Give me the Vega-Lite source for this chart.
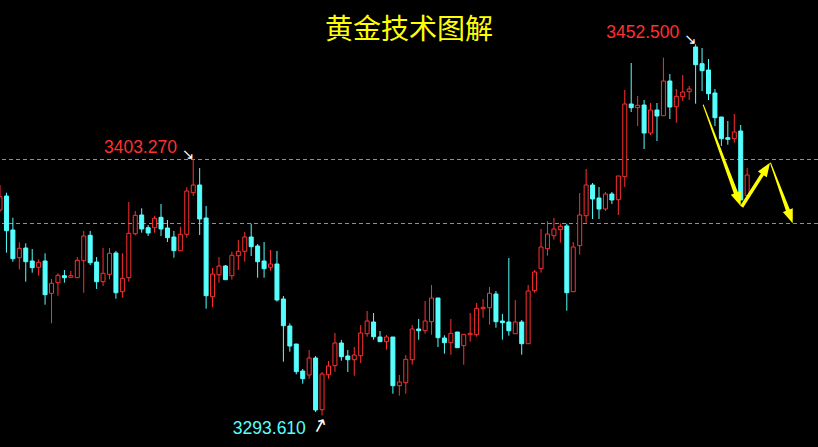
{
  "$schema": "https://vega.github.io/schema/vega-lite/v6.json",
  "width": 818,
  "height": 447,
  "autosize": {"type": "none"},
  "padding": 0,
  "background": "#000000",
  "config": {"view": {"stroke": null}},
  "datasets": {
    "candles": [
      {"i":0,"o":3381.56,"h":3392.26,"l":3380.70,"c":3387.25},
      {"i":1,"o":3387.55,"h":3388.96,"l":3363.28,"c":3372.70},
      {"i":2,"o":3373.00,"h":3378.26,"l":3359.42,"c":3360.71},
      {"i":3,"o":3361.14,"h":3367.73,"l":3356.17,"c":3365.16},
      {"i":4,"o":3365.29,"h":3367.30,"l":3350.86,"c":3359.42},
      {"i":5,"o":3359.73,"h":3364.86,"l":3354.72,"c":3356.86},
      {"i":6,"o":3357.03,"h":3360.45,"l":3353.43,"c":3359.17},
      {"i":7,"o":3359.73,"h":3363.02,"l":3341.02,"c":3345.30},
      {"i":8,"o":3345.90,"h":3352.02,"l":3333.06,"c":3350.18},
      {"i":9,"o":3350.44,"h":3354.46,"l":3344.87,"c":3353.60},
      {"i":10,"o":3353.43,"h":3355.87,"l":3350.44,"c":3352.58},
      {"i":11,"o":3352.75,"h":3355.44,"l":3352.75,"c":3353.43},
      {"i":12,"o":3352.58,"h":3361.44,"l":3352.58,"c":3360.03},
      {"i":13,"o":3359.85,"h":3372.57,"l":3346.15,"c":3370.43},
      {"i":14,"o":3370.73,"h":3372.57,"l":3358.01,"c":3359.00},
      {"i":15,"o":3359.30,"h":3361.44,"l":3347.74,"c":3350.86},
      {"i":16,"o":3350.86,"h":3365.29,"l":3349.02,"c":3354.46},
      {"i":17,"o":3354.03,"h":3365.29,"l":3351.89,"c":3363.02},
      {"i":18,"o":3363.15,"h":3364.01,"l":3343.59,"c":3346.15},
      {"i":19,"o":3346.58,"h":3363.02,"l":3344.01,"c":3352.32},
      {"i":20,"o":3352.58,"h":3384.98,"l":3350.86,"c":3371.58},
      {"i":21,"o":3371.41,"h":3381.13,"l":3370.73,"c":3379.29},
      {"i":22,"o":3379.42,"h":3382.29,"l":3371.84,"c":3373.43},
      {"i":23,"o":3373.98,"h":3375.14,"l":3370.43,"c":3371.71},
      {"i":24,"o":3373.98,"h":3378.99,"l":3371.84,"c":3378.01},
      {"i":25,"o":3378.43,"h":3384.13,"l":3370.43,"c":3373.43},
      {"i":26,"o":3373.85,"h":3377.28,"l":3367.86,"c":3369.70},
      {"i":27,"o":3370.00,"h":3372.57,"l":3361.14,"c":3364.14},
      {"i":28,"o":3364.14,"h":3374.41,"l":3364.14,"c":3371.16},
      {"i":29,"o":3371.16,"h":3391.28,"l":3369.70,"c":3389.69},
      {"i":30,"o":3388.96,"h":3403.27,"l":3387.55,"c":3392.26},
      {"i":31,"o":3392.26,"h":3399.54,"l":3370.86,"c":3377.71},
      {"i":32,"o":3378.13,"h":3383.27,"l":3339.31,"c":3344.87},
      {"i":33,"o":3344.44,"h":3356.73,"l":3339.90,"c":3354.16},
      {"i":34,"o":3353.86,"h":3361.44,"l":3350.44,"c":3357.59},
      {"i":35,"o":3357.59,"h":3358.01,"l":3351.72,"c":3351.72},
      {"i":36,"o":3353.43,"h":3363.71,"l":3351.72,"c":3362.17},
      {"i":37,"o":3361.99,"h":3368.72,"l":3355.87,"c":3363.88},
      {"i":38,"o":3363.88,"h":3372.14,"l":3359.42,"c":3370.00},
      {"i":39,"o":3370.00,"h":3375.69,"l":3361.87,"c":3365.85},
      {"i":40,"o":3366.15,"h":3367.00,"l":3352.58,"c":3359.42},
      {"i":41,"o":3359.73,"h":3367.86,"l":3352.58,"c":3356.43},
      {"i":42,"o":3357.03,"h":3364.43,"l":3355.57,"c":3358.44},
      {"i":43,"o":3358.44,"h":3364.01,"l":3342.30,"c":3343.03},
      {"i":44,"o":3343.46,"h":3344.74,"l":3316.62,"c":3332.03},
      {"i":45,"o":3331.90,"h":3333.06,"l":3320.90,"c":3323.34},
      {"i":46,"o":3324.19,"h":3324.19,"l":3311.22,"c":3312.34},
      {"i":47,"o":3312.63,"h":3313.49,"l":3307.20,"c":3309.34},
      {"i":48,"o":3310.92,"h":3321.62,"l":3309.34,"c":3318.20},
      {"i":49,"o":3318.20,"h":3319.06,"l":3295.08,"c":3295.94},
      {"i":50,"o":3296.07,"h":3312.21,"l":3293.61,"c":3311.35},
      {"i":51,"o":3311.05,"h":3316.92,"l":3309.34,"c":3314.78},
      {"i":52,"o":3314.90,"h":3328.90,"l":3312.34,"c":3324.62},
      {"i":53,"o":3324.62,"h":3325.91,"l":3317.04,"c":3318.76},
      {"i":54,"o":3319.06,"h":3321.62,"l":3312.21,"c":3317.47},
      {"i":55,"o":3317.47,"h":3322.91,"l":3310.62,"c":3319.48},
      {"i":56,"o":3319.18,"h":3332.33,"l":3316.06,"c":3328.90},
      {"i":57,"o":3328.60,"h":3338.32,"l":3327.32,"c":3334.04},
      {"i":58,"o":3333.61,"h":3337.46,"l":3326.03,"c":3327.32},
      {"i":59,"o":3327.19,"h":3329.76,"l":3325.18,"c":3325.18},
      {"i":60,"o":3325.18,"h":3328.05,"l":3321.75,"c":3327.19},
      {"i":61,"o":3327.19,"h":3327.19,"l":3302.92,"c":3306.34},
      {"i":62,"o":3306.34,"h":3310.92,"l":3302.06,"c":3307.93},
      {"i":63,"o":3307.63,"h":3319.48,"l":3302.92,"c":3317.64},
      {"i":64,"o":3317.47,"h":3332.33,"l":3315.33,"c":3330.62},
      {"i":65,"o":3330.62,"h":3334.90,"l":3326.03,"c":3329.89},
      {"i":66,"o":3329.89,"h":3342.60,"l":3328.60,"c":3334.04},
      {"i":67,"o":3333.74,"h":3349.45,"l":3328.17,"c":3343.89},
      {"i":68,"o":3343.89,"h":3343.89,"l":3322.91,"c":3326.89},
      {"i":69,"o":3326.76,"h":3327.92,"l":3320.04,"c":3324.75},
      {"i":70,"o":3324.75,"h":3334.90,"l":3319.61,"c":3328.77},
      {"i":71,"o":3329.33,"h":3329.33,"l":3322.61,"c":3322.61},
      {"i":72,"o":3323.47,"h":3328.35,"l":3315.33,"c":3328.35},
      {"i":73,"o":3328.17,"h":3337.46,"l":3325.18,"c":3328.77},
      {"i":74,"o":3328.17,"h":3341.75,"l":3327.32,"c":3339.48},
      {"i":75,"o":3339.31,"h":3343.46,"l":3335.45,"c":3339.90},
      {"i":76,"o":3339.73,"h":3348.60,"l":3332.46,"c":3345.90},
      {"i":77,"o":3345.60,"h":3346.88,"l":3331.17,"c":3333.74},
      {"i":78,"o":3334.04,"h":3337.04,"l":3326.03,"c":3333.31},
      {"i":79,"o":3333.61,"h":3361.01,"l":3327.75,"c":3329.89},
      {"i":80,"o":3328.60,"h":3343.03,"l":3328.60,"c":3333.61},
      {"i":81,"o":3333.61,"h":3334.47,"l":3319.61,"c":3324.32},
      {"i":82,"o":3324.32,"h":3349.45,"l":3324.32,"c":3346.88},
      {"i":83,"o":3347.01,"h":3355.87,"l":3346.15,"c":3355.02},
      {"i":84,"o":3356.43,"h":3373.43,"l":3354.72,"c":3365.72},
      {"i":85,"o":3364.99,"h":3376.85,"l":3361.99,"c":3371.28},
      {"i":86,"o":3370.56,"h":3378.13,"l":3368.84,"c":3373.43},
      {"i":87,"o":3373.13,"h":3375.86,"l":3367.56,"c":3374.58},
      {"i":88,"o":3374.71,"h":3375.69,"l":3338.45,"c":3346.15},
      {"i":89,"o":3346.58,"h":3367.86,"l":3346.58,"c":3365.72},
      {"i":90,"o":3366.28,"h":3388.84,"l":3362.42,"c":3379.42},
      {"i":91,"o":3379.12,"h":3399.11,"l":3376.12,"c":3392.26},
      {"i":92,"o":3392.26,"h":3393.12,"l":3377.71,"c":3386.27},
      {"i":93,"o":3386.70,"h":3391.41,"l":3377.71,"c":3381.99},
      {"i":94,"o":3381.99,"h":3389.26,"l":3381.13,"c":3388.41},
      {"i":95,"o":3388.41,"h":3389.26,"l":3384.13,"c":3385.84},
      {"i":96,"o":3385.97,"h":3396.11,"l":3379.42,"c":3396.11},
      {"i":97,"o":3395.81,"h":3432.93,"l":3391.41,"c":3426.94},
      {"i":98,"o":3426.94,"h":3444.49,"l":3423.51,"c":3425.35},
      {"i":99,"o":3425.35,"h":3430.36,"l":3417.52,"c":3426.38},
      {"i":100,"o":3426.51,"h":3428.65,"l":3407.67,"c":3414.52},
      {"i":101,"o":3414.52,"h":3427.37,"l":3413.67,"c":3424.37},
      {"i":102,"o":3424.37,"h":3427.37,"l":3411.10,"c":3421.80},
      {"i":103,"o":3421.93,"h":3446.76,"l":3421.80,"c":3436.78},
      {"i":104,"o":3436.78,"h":3439.78,"l":3420.52,"c":3425.65},
      {"i":105,"o":3425.78,"h":3433.36,"l":3418.93,"c":3430.23},
      {"i":106,"o":3430.06,"h":3439.35,"l":3428.22,"c":3432.07},
      {"i":107,"o":3432.20,"h":3434.64,"l":3428.65,"c":3433.36},
      {"i":108,"o":3451.34,"h":3452.50,"l":3427.07,"c":3443.76},
      {"i":109,"o":3444.19,"h":3450.91,"l":3432.50,"c":3441.19},
      {"i":110,"o":3441.49,"h":3446.20,"l":3428.65,"c":3431.35},
      {"i":111,"o":3431.65,"h":3433.36,"l":3417.52,"c":3421.07},
      {"i":112,"o":3421.37,"h":3421.37,"l":3408.96,"c":3412.08},
      {"i":113,"o":3412.51,"h":3419.66,"l":3409.51,"c":3411.83},
      {"i":114,"o":3412.08,"h":3422.66,"l":3410.37,"c":3414.95},
      {"i":115,"o":3415.38,"h":3417.95,"l":3385.84,"c":3385.84},
      {"i":116,"o":3387.68,"h":3399.54,"l":3387.68,"c":3396.54}
    ],
    "levels": [{"level": 3403.27}, {"level": 3375.87}],
    "highs": [{"i": 30, "p": 3403.27, "label": "3403.270"}, {"i": 108, "p": 3452.5, "label": "3452.500"}],
    "lows": [{"i": 50, "p": 3293.61, "label": "3293.610"}],
    "tapered": [
      {"seg": "a", "i": 109.19, "p": 3426.51, "part": "start"},
      {"seg": "a", "i": 114.57, "p": 3386.48, "part": "end"},
      {"seg": "c", "i": 119.63, "p": 3401.68, "part": "start"},
      {"seg": "c", "i": 122.64, "p": 3379.08, "part": "end"}
    ],
    "straight": [
      {"seg": "b", "i": 115.15, "p": 3382.97},
      {"seg": "b", "i": 118.86, "p": 3398.94}
    ],
    "headsDown": [{"i": 115.0, "p": 3383.27}, {"i": 123.07, "p": 3375.87}],
    "headsUp": [{"i": 119.55, "p": 3401.81}]
  },
  "layer": [
    {
      "data": {"name": "levels"},
      "mark": {"type": "rule", "color": "#ee7a1e", "strokeWidth": 1, "strokeDash": [4, 3], "yOffset": 0.2},
      "encoding": {
        "y": {"field": "level", "type": "quantitative", "axis": null, "scale": {"domain": [3280.10, 3471.46], "nice": false, "zero": false}}
      }
    },
    {
      "data": {"name": "candles"},
      "mark": {"type": "rule", "strokeWidth": 1},
      "encoding": {
        "x": {"field": "i", "type": "quantitative", "axis": null, "scale": {"domain": [0, 127], "nice": false, "zero": false, "padding": 0}},
        "y": {"field": "l", "type": "quantitative", "axis": null, "scale": {"domain": [3280.10, 3471.46], "nice": false, "zero": false}},
        "y2": {"field": "h"},
        "color": {"condition": {"test": "datum.c >= datum.o", "value": "#ff3030"}, "value": "#55ffff"}
      }
    },
    {
      "data": {"name": "candles"},
      "mark": {"type": "bar", "size": 4, "strokeWidth": 1},
      "encoding": {
        "x": {"field": "i", "type": "quantitative", "axis": null, "scale": {"domain": [0, 127], "nice": false, "zero": false, "padding": 0}},
        "y": {"field": "o", "type": "quantitative", "axis": null, "scale": {"domain": [3280.10, 3471.46], "nice": false, "zero": false}},
        "y2": {"field": "c"},
        "fill": {"condition": {"test": "datum.c >= datum.o", "value": "#000000"}, "value": "#55ffff"},
        "stroke": {"condition": {"test": "datum.c >= datum.o", "value": "#ff3030"}, "value": "#55ffff"}
      }
    },
    {
      "data": {"name": "tapered"},
      "mark": {"type": "trail", "color": "#ffff00"},
      "encoding": {
        "x": {"field": "i", "type": "quantitative", "axis": null, "scale": {"domain": [0, 127], "nice": false, "zero": false, "padding": 0}},
        "y": {"field": "p", "type": "quantitative", "axis": null, "scale": {"domain": [3280.10, 3471.46], "nice": false, "zero": false}},
        "detail": {"field": "seg", "type": "nominal"},
        "size": {"field": "part", "type": "ordinal", "legend": null, "scale": {"domain": ["start", "end"], "range": [1, 4.5]}}
      }
    },
    {
      "data": {"name": "straight"},
      "mark": {"type": "line", "color": "#ffff00", "strokeWidth": 3.5},
      "encoding": {
        "x": {"field": "i", "type": "quantitative", "axis": null, "scale": {"domain": [0, 127], "nice": false, "zero": false, "padding": 0}},
        "y": {"field": "p", "type": "quantitative", "axis": null, "scale": {"domain": [3280.10, 3471.46], "nice": false, "zero": false}}
      }
    },
    {
      "data": {"name": "headsDown"},
      "mark": {"type": "point", "shape": "M0,0L0.38,1L-0.38,1Z", "filled": true, "color": "#ffff00", "opacity": 1, "size": 784, "angle": 159.6},
      "encoding": {
        "x": {"field": "i", "type": "quantitative", "axis": null, "scale": {"domain": [0, 127], "nice": false, "zero": false, "padding": 0}},
        "y": {"field": "p", "type": "quantitative", "axis": null, "scale": {"domain": [3280.10, 3471.46], "nice": false, "zero": false}}
      }
    },
    {
      "data": {"name": "headsUp"},
      "mark": {"type": "point", "shape": "M0,0L0.38,1L-0.38,1Z", "filled": true, "color": "#ffff00", "opacity": 1, "size": 784, "angle": 33.2},
      "encoding": {
        "x": {"field": "i", "type": "quantitative", "axis": null, "scale": {"domain": [0, 127], "nice": false, "zero": false, "padding": 0}},
        "y": {"field": "p", "type": "quantitative", "axis": null, "scale": {"domain": [3280.10, 3471.46], "nice": false, "zero": false}}
      }
    },
    {
      "data": {"name": "highs"},
      "mark": {"type": "text", "text": "↘", "font": "DejaVu Sans", "fontSize": 15, "color": "#ffffff", "align": "center", "baseline": "middle", "dx": -5, "dy": -5},
      "encoding": {
        "x": {"field": "i", "type": "quantitative", "axis": null, "scale": {"domain": [0, 127], "nice": false, "zero": false, "padding": 0}},
        "y": {"field": "p", "type": "quantitative", "axis": null, "scale": {"domain": [3280.10, 3471.46], "nice": false, "zero": false}}
      }
    },
    {
      "data": {"name": "lows"},
      "mark": {"type": "text", "text": "↗", "font": "DejaVu Sans", "fontSize": 19, "color": "#ffffff", "align": "center", "baseline": "middle", "dx": -5, "dy": 9, "angle": -16},
      "encoding": {
        "x": {"field": "i", "type": "quantitative", "axis": null, "scale": {"domain": [0, 127], "nice": false, "zero": false, "padding": 0}},
        "y": {"field": "p", "type": "quantitative", "axis": null, "scale": {"domain": [3280.10, 3471.46], "nice": false, "zero": false}}
      }
    },
    {
      "data": {"name": "highs"},
      "mark": {"type": "text", "font": "Liberation Sans", "fontSize": 17.5, "color": "#ff3030", "align": "right", "baseline": "alphabetic", "dx": -16.3, "dy": -6.3},
      "encoding": {
        "x": {"field": "i", "type": "quantitative", "axis": null, "scale": {"domain": [0, 127], "nice": false, "zero": false, "padding": 0}},
        "y": {"field": "p", "type": "quantitative", "axis": null, "scale": {"domain": [3280.10, 3471.46], "nice": false, "zero": false}},
        "text": {"field": "label", "type": "nominal"}
      }
    },
    {
      "data": {"name": "lows"},
      "mark": {"type": "text", "font": "Liberation Sans", "fontSize": 17.5, "color": "#55ffff", "align": "right", "baseline": "alphabetic", "dx": -16.2, "dy": 18.8},
      "encoding": {
        "x": {"field": "i", "type": "quantitative", "axis": null, "scale": {"domain": [0, 127], "nice": false, "zero": false, "padding": 0}},
        "y": {"field": "p", "type": "quantitative", "axis": null, "scale": {"domain": [3280.10, 3471.46], "nice": false, "zero": false}},
        "text": {"field": "label", "type": "nominal"}
      }
    },
    {
      "data": {"values": [{"title": "黄金技术图解"}]},
      "mark": {"type": "text", "font": "Noto Sans CJK SC", "fontSize": 28, "color": "#ffff00", "align": "center", "baseline": "alphabetic"},
      "encoding": {
        "x": {"datum": 63.5, "type": "quantitative", "axis": null, "scale": {"domain": [0, 127], "nice": false, "zero": false, "padding": 0}},
        "y": {"datum": 3454.76, "type": "quantitative", "axis": null, "scale": {"domain": [3280.10, 3471.46], "nice": false, "zero": false}},
        "text": {"field": "title", "type": "nominal"}
      }
    }
  ]
}
